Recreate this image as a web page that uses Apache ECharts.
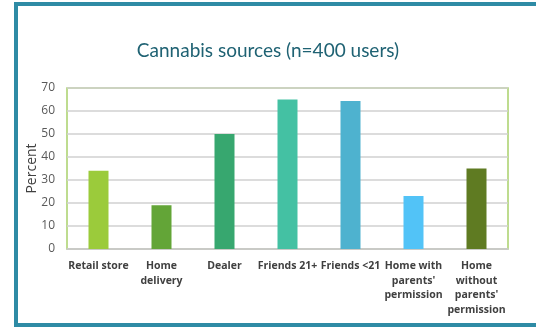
<!DOCTYPE html>
<html>
<head>
<meta charset="utf-8">
<script src="https://cdn.jsdelivr.net/npm/echarts@6/dist/echarts.min.js"></script>
<style>
  html, body { margin: 0; padding: 0; background: #fff; }
  #chart { width: 536px; height: 327px; }
</style>
</head>
<body>
<div id="chart"></div>
<script>
// data
const sources = ['Retail store', 'Home\ndelivery', 'Dealer', 'Friends 21+', 'Friends <21',
  'Home with\nparents\'\npermission', 'Home\nwithout\nparents\'\npermission'];
const percents = [34, 19, 50, 65, 64.4, 23, 35];

const barColors = ['#9bcb3b', '#63a537', '#37a76f', '#44c1a3', '#4eb2cf', '#52c3f7', '#5f7b22'];

const chart = echarts.init(document.getElementById('chart'));

const option = {
  animation: false,
  title: {
    text: 'Cannabis sources (n=400 users)',
    left: 'center',
    top: 36,
    textStyle: {
      fontFamily: 'Lato',
      fontWeight: 'normal',
      fontSize: 19,
      color: '#1f6273'
    }
  },
  graphic: [
    {
      type: 'rect',
      shape: { x: 16, y: 4, width: 600, height: 321 },
      style: { fill: 'none', stroke: '#2e8ba5', lineWidth: 4 },
      z: 100
    }
  ],
  grid: {
    left: 67,
    top: 88,
    right: 28,
    bottom: 78,
    show: true,
    borderColor: '#a9d16b',
    borderWidth: 1.5
  },
  xAxis: {
    type: 'category',
    data: sources,
    axisLine: { show: true, lineStyle: { color: '#c8c8c8', width: 1.5 } },
    axisTick: { show: false },
    axisLabel: {
      interval: 0,
      margin: 10,
      fontFamily: 'Open Sans',
      fontWeight: 'bold',
      fontSize: 10.5,
      lineHeight: 14.5,
      color: '#404040'
    }
  },
  yAxis: {
    type: 'value',
    min: 0,
    max: 70,
    interval: 10,
    name: 'Percent',
    nameLocation: 'middle',
    nameGap: 28,
    nameMoveOverlap: false,
    nameTextStyle: {
      fontFamily: 'Open Sans',
      fontSize: 14,
      color: '#404040'
    },
    axisLine: { show: false },
    axisTick: { show: false },
    axisLabel: {
      margin: 12,
      fontFamily: 'Open Sans',
      fontSize: 12,
      color: '#595959'
    },
    splitLine: { lineStyle: { color: '#d0d0d0', width: 1.5 } }
  },
  series: [
    {
      type: 'bar',
      barWidth: 20,
      data: percents.map((v, i) => ({ value: v, itemStyle: { color: barColors[i] } }))
    }
  ]
};

chart.setOption(option);
</script>
</body>
</html>
